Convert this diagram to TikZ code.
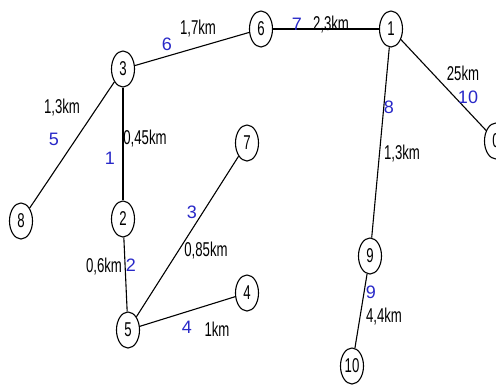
\documentclass[tikz,border=0pt]{standalone}
\usepackage{fontspec}
\setmainfont[FakeStretch=0.66]{Liberation Sans}
\newfontfamily\bluefont{Liberation Sans}
\usetikzlibrary{shapes.geometric}
\definecolor{numblue}{RGB}{40,40,200}
\tikzset{
  vtx/.style={draw, ellipse, line width=1.1pt, minimum width=23pt, minimum height=36pt, inner sep=0pt, font=\fontsize{20}{20}\selectfont},
  edge/.style={line width=1.1pt},
  dist/.style={font=\fontsize{20}{20}\selectfont, inner sep=0pt},
  enum/.style={font=\bluefont\fontsize{18}{18}\selectfont, text=numblue, inner sep=0pt}
}
\begin{document}
\begin{tikzpicture}[x=1pt,y=-1pt]
\useasboundingbox (0,0) rectangle (496,386);
\clip (0,0) rectangle (496,386);
\fill[white] (0,0) rectangle (496,386);
% vertices
\node[vtx] (n3) at (123,69) {3};
\node[vtx] (n6) at (261,29) {6};
\node[vtx] (n1) at (391,29) {1};
\node[vtx] (n0) at (496,141) {0};
\node[vtx] (n7) at (247,143) {7};
\node[vtx] (n8) at (21,221) {8};
\node[vtx] (n2) at (123,219) {2};
\node[vtx] (n9) at (370,256) {9};
\node[vtx] (n5) at (128,330) {5};
\node[vtx] (n4) at (247,293) {4};
\node[vtx] (n10) at (352,366) {10};
% edges
\draw[edge] (n3) -- (n6);
\draw[edge] (n6) -- (n1);
\draw[edge] (n1) -- (n0);
\draw[edge] (n1) -- (n9);
\draw[edge] (n9) -- (n10);
\draw[edge] (n3) -- (n8);
\draw[edge] (n3) -- (n2);
\draw[edge] (n2) -- (n5);
\draw[edge] (n5) -- (n7);
\draw[edge] (n5) -- (n4);
% distance labels
\node[dist] (d6) at (198,29) {1,7km};
\node[dist] (d7) at (331,25) {2,3km};
\node[dist] (d10) at (463,73) {25km};
\node[dist] (d8) at (402,154) {1,3km};
\node[dist] (d5) at (62,108) {1,3km};
\node[dist] (d1) at (145,139) {0,45km};
\node[dist] (d3) at (206,251) {0,85km};
\node[dist] (d2) at (104,267) {0,6km};
\node[dist] (d4) at (217,329) {1km};
\node[dist] (d9) at (384,317) {4,4km};
% edge numbers
\node[enum] (e6) at (167,44) {6};
\node[enum] (e7) at (297,24) {7};
\node[enum] (e10) at (468,97) {10};
\node[enum] (e8) at (389,107) {8};
\node[enum] (e5) at (54,139) {5};
\node[enum] (e1) at (110,158) {1};
\node[enum] (e3) at (192,212) {3};
\node[enum] (e2) at (131,265) {2};
\node[enum] (e4) at (187,327) {4};
\node[enum] (e9) at (371,292) {9};
\end{tikzpicture}
\end{document}
